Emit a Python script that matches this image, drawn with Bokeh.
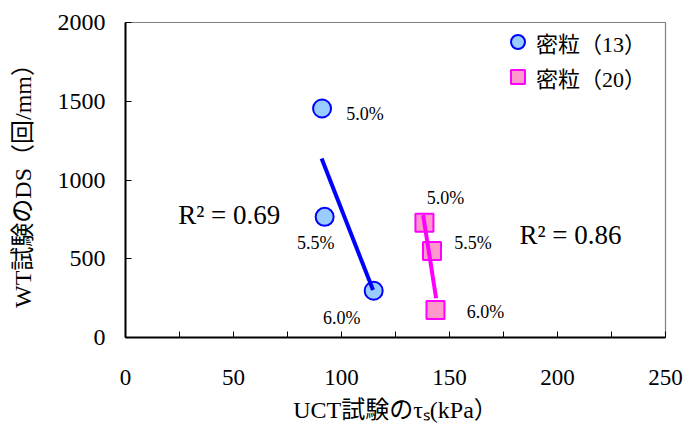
from bokeh.plotting import figure
from bokeh.models import ColumnDataSource, Legend, LegendItem, Label, FixedTicker, Range1d
from bokeh.core.properties import value
from bokeh.embed import file_html
from bokeh.resources import INLINE

# ---- data ----
series_names = ["密粒（13）", "密粒（20）"]
series13_x = [91.0, 92.2, 114.9]
series13_y = [1454, 766, 297]
series20_x = [138.4, 141.9, 143.5]
series20_y = [728, 549, 174]
point_labels = ["5.0%", "5.5%", "6.0%"]
trend13_x = [90.8, 114.6]
trend13_y = [1137, 301]
trend20_x = [137.8, 143.8]
trend20_y = [777, 249]
r2_texts = ["R² = 0.69", "R² = 0.86"]
x_ticks = [0, 50, 100, 150, 200, 250]
x_minor_ticks = [25, 75, 125, 175, 225]
y_ticks = [0, 500, 1000, 1500, 2000]

# ---- styles / label offsets (pixels) ----
lab13_dx = [43, -9, -32]
lab13_dy = [6, 26, 27]
lab20_dx = [21, 41, 50]
lab20_dy = [-25, -8, 2]

FONT = "Liberation Serif, Noto Sans CJK JP"
BLUE_LINE, BLUE_FILL = "#0000FF", "#99CCFF"
PINK_LINE, PINK_FILL = "#FF00FF", "#FF99CC"

p = figure(width=689, height=427, output_backend="svg", toolbar_location=None,
           x_range=Range1d(0, 250), y_range=Range1d(0, 2000),
           min_border_left=125, min_border_right=24, min_border_top=22, min_border_bottom=90)
p.background_fill_color = "white"
p.border_fill_color = "white"
p.grid.visible = False
p.outline_line_color = "#808080"
p.outline_line_width = 1.2

src13 = ColumnDataSource(dict(x=series13_x, y=series13_y, t=point_labels, dx=lab13_dx, dy=lab13_dy))
src20 = ColumnDataSource(dict(x=series20_x, y=series20_y, t=point_labels, dx=lab20_dx, dy=lab20_dy))

r13 = p.scatter("x", "y", source=src13, marker="circle", size=18,
                fill_color=BLUE_FILL, line_color=BLUE_LINE, line_width=2)
r20 = p.scatter("x", "y", source=src20, marker="square", size=18,
                fill_color=PINK_FILL, line_color=PINK_LINE, line_width=2)

p.line(trend13_x, trend13_y, line_color=BLUE_LINE, line_width=4)
p.line(trend20_x, trend20_y, line_color=PINK_LINE, line_width=4)

for src in (src13, src20):
    p.text("x", "y", text="t", source=src, x_offset="dx", y_offset="dy",
           text_font=value(FONT), text_font_size="18px", text_color="black",
           text_align="center", text_baseline="middle")

p.add_layout(Label(x=48, y=777, text=r2_texts[0], text_font=FONT, text_font_size="27px",
                   text_align="center", text_baseline="middle", text_color="black"))
p.add_layout(Label(x=206, y=650, text=r2_texts[1], text_font=FONT, text_font_size="27px",
                   text_align="center", text_baseline="middle", text_color="black"))

legend = Legend(items=[LegendItem(label=series_names[0], renderers=[r13]),
                       LegendItem(label=series_names[1], renderers=[r20])],
                location=(375, 243), padding=0, margin=0, spacing=-1,
                glyph_width=35, glyph_height=35, label_standoff=1,
                label_text_font=FONT, label_text_font_size="22px", label_text_color="black",
                border_line_alpha=0, background_fill_alpha=0)
p.add_layout(legend, "center")

p.xaxis.ticker = FixedTicker(ticks=x_ticks, minor_ticks=x_minor_ticks)
p.yaxis.ticker = FixedTicker(ticks=y_ticks)
for ax in (p.xaxis, p.yaxis):
    ax.axis_line_width = 2
    ax.axis_line_color = "black"
    ax.major_tick_in = 6
    ax.major_tick_out = 0
    ax.minor_tick_in = 6
    ax.minor_tick_out = 0
    ax.major_tick_line_color = "black"
    ax.minor_tick_line_color = "black"
    ax.major_label_text_font = FONT
    ax.major_label_text_color = "black"
    ax.axis_label_text_font = FONT
    ax.axis_label_text_font_style = "normal"
    ax.axis_label_text_color = "black"
    ax.axis_label_text_font_size = "24px"

p.xaxis.major_label_text_font_size = "23px"
p.yaxis.major_label_text_font_size = "24px"
p.xaxis.major_label_standoff = 32
p.yaxis.major_label_standoff = 20
p.xaxis.axis_label = "UCT試験のτₛ(kPa）"
p.yaxis.axis_label = "WT試験のDS（回/mm）"
p.xaxis.axis_label_standoff = 9
p.yaxis.axis_label_standoff = 19

open("out.html", "w").write(file_html(p, INLINE))
